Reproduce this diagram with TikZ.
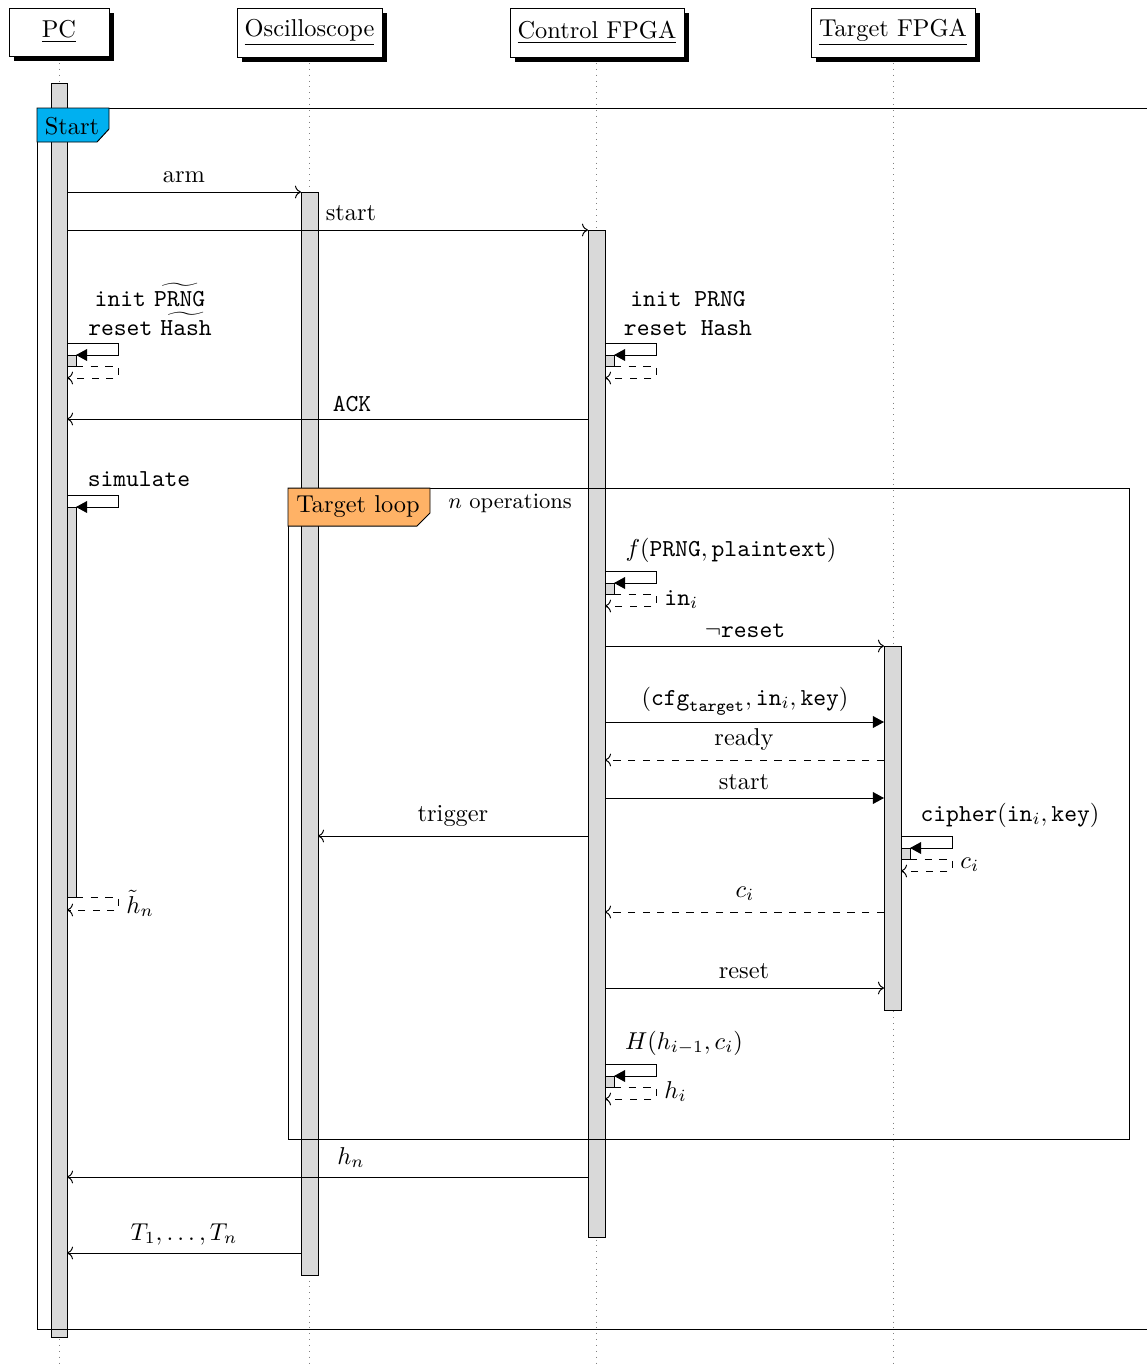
\documentclass[tikz,border=0pt]{standalone}
\usetikzlibrary{arrows.meta,shadows}
\definecolor{startblue}{RGB}{0,176,240}
\definecolor{loopor}{RGB}{255,178,102}
\definecolor{actgray}{RGB}{217,217,217}
\newcommand{\myself}[3]{%
  % #1 bar right x, #2 top y, #3 name
  \coordinate (#3-a) at (#1,#2);
  \coordinate (#3-b) at ({#1+51},#2);
  \coordinate (#3-c) at ({#1+51},{#2+12});
  \coordinate (#3-d) at ({#1+9},{#2+12});
  \draw[act] ({#1},{#2+12}) rectangle ({#1+9},{#2+23});
  \coordinate (#3-e) at ({#1+9},{#2+23});
  \coordinate (#3-f) at ({#1+51},{#2+23});
  \coordinate (#3-g) at ({#1+51},{#2+35});
  \coordinate (#3-h) at ({#1},{#2+35});
  \draw[callmsg] (#3-a) -- (#3-b) -- (#3-c) -- (#3-d);
  \draw[retmsg] (#3-e) -- (#3-f) -- (#3-g) -- (#3-h);
}
\begin{document}
\begin{tikzpicture}[x=0.41pt,y=-0.41pt,
  head/.style={draw, fill=white, inner sep=0pt,
    drop shadow={fill=black, opacity=1, shadow xshift=2.05pt, shadow yshift=-2.05pt}},
  life/.style={dotted, gray},
  act/.style={draw, fill=actgray},
  msg/.style={->},
  callmsg/.style={-{Triangle[length=4.6pt,width=4.9pt]}},
  retmsg/.style={dashed, ->},
  lab/.style={anchor=base, inner sep=0pt},
  labw/.style={anchor=base west, inner sep=0pt},
  frame/.style={draw}]
\useasboundingbox (0,0) rectangle (1147,1364);
\clip (0,0) rectangle (1147,1364);

% heads
\node[head, minimum width=100*0.41pt, minimum height=48*0.41pt] (pc) at (59,32) {\underline{PC}};
\node[head, minimum width=145*0.41pt, minimum height=49*0.41pt] (osc) at (309.5,32.5) {\underline{Oscilloscope}};
\node[head, minimum width=174*0.41pt, minimum height=49*0.41pt] (ctl) at (597,32.5) {\underline{Control FPGA}};
\node[head, minimum width=164*0.41pt, minimum height=49*0.41pt] (tgt) at (893,32.5) {\underline{Target FPGA}};

% lifelines
\coordinate (pct) at (59,63);   \coordinate (pcb) at (59,1364);
\coordinate (osct) at (309,63); \coordinate (oscb) at (309,1364);
\coordinate (ctlt) at (596,63); \coordinate (ctlb) at (596,1364);
\coordinate (tgtt) at (893,63); \coordinate (tgtb) at (893,1364);
\draw[life] (pct) -- (pcb);
\draw[life] (osct) -- (oscb);
\draw[life] (ctlt) -- (ctlb);
\draw[life] (tgtt) -- (tgtb);

% activation bars
\draw[act] (51,83) rectangle (67,1337);
\draw[act] (301,192) rectangle (318,1275);
\draw[act] (588,230) rectangle (605,1237);
\draw[act] (884,646) rectangle (901,1010);
\draw[act] (67,507) rectangle (76,897);

% frames
\draw[frame] (37,108) rectangle (1170,1329);
\draw[frame] (288,488) rectangle (1129,1139);
\draw[fill=startblue] (37,108) -- (109,108) -- (109,129) -- (97,142) -- (37,142) -- cycle;
\node[inner sep=0pt] (startlab) at (72,126) {Start};
\draw[fill=loopor] (288,488) -- (430,488) -- (430,513) -- (417,526) -- (288,526) -- cycle;
\node[inner sep=0pt] (looplab) at (358,507) {Target loop};
\node[lab] (nops) at (510,508) {\small $n$ operations};

% arm
\coordinate (arm1) at (67,192); \coordinate (arm2) at (301,192);
\draw[msg] (arm1) -- (arm2);
\node[lab] at (184,182) {arm};
% start
\coordinate (st1) at (67,230); \coordinate (st2) at (588,230);
\draw[msg] (st1) -- (st2);
\node[lab] at (351,220) {start};

% init self calls
\myself{67}{343}{pci}
\node[lab] at (150,306) {\texttt{init} $\widetilde{\mathtt{PRNG}}$};
\node[lab] at (150,335) {\texttt{reset} $\widetilde{\mathtt{Hash}}$};
\myself{605}{343}{cti}
\node[lab] at (688,306) {\texttt{init PRNG}};
\node[lab] at (688,335) {\texttt{reset Hash}};

% ACK
\coordinate (ack1) at (588,419); \coordinate (ack2) at (67,419);
\draw[msg] (ack1) -- (ack2);
\node[lab] at (352,411) {\texttt{ACK}};

% simulate
\coordinate (sim-a) at (67,495); \coordinate (sim-b) at (118,495);
\coordinate (sim-c) at (118,507); \coordinate (sim-d) at (76,507);
\draw[callmsg] (sim-a) -- (sim-b) -- (sim-c) -- (sim-d);
\node[lab] at (139,486) {\texttt{simulate}};
\coordinate (sim-e) at (76,897); \coordinate (sim-f) at (118,897);
\coordinate (sim-g) at (118,910); \coordinate (sim-h) at (67,910);
\draw[retmsg] (sim-e) -- (sim-f) -- (sim-g) -- (sim-h);
\node[labw] at (126,913) {$\tilde{h}_n$};

% f(PRNG, plaintext)
\myself{605}{571}{fcall}
\node[lab] at (731,556) {$f(\mathtt{PRNG},\mathtt{plaintext})$};
\node[labw] at (664,605) {$\mathtt{in}_i$};

% not reset
\coordinate (nr1) at (605,646); \coordinate (nr2) at (884,646);
\draw[msg] (nr1) -- (nr2);
\node[lab] at (745,637) {$\neg\mathtt{reset}$};

% cfg
\coordinate (cf1) at (605,722); \coordinate (cf2) at (884,722);
\draw[callmsg] (cf1) -- (cf2);
\node[lab] at (745,705) {$(\mathtt{cfg}_{\mathtt{target}},\mathtt{in}_i,\mathtt{key})$};

% ready
\coordinate (rd1) at (884,760); \coordinate (rd2) at (605,760);
\draw[retmsg] (rd1) -- (rd2);
\node[lab] at (744,745) {ready};

% start
\coordinate (s21) at (605,798); \coordinate (s22) at (884,798);
\draw[callmsg] (s21) -- (s22);
\node[lab] at (744,789) {start};

% trigger
\coordinate (tr1) at (588,836); \coordinate (tr2) at (318,836);
\draw[msg] (tr1) -- (tr2);
\node[lab] at (453,821) {trigger};

% cipher
\myself{901}{836}{ciph}
\node[lab] at (1010,821) {$\mathtt{cipher}(\mathtt{in}_i,\mathtt{key})$};
\node[labw] at (960,868) {$c_i$};

% c_i
\coordinate (ci1) at (884,912); \coordinate (ci2) at (605,912);
\draw[retmsg] (ci1) -- (ci2);
\node[lab] at (745,897) {$c_i$};

% reset
\coordinate (rs1) at (605,988); \coordinate (rs2) at (884,988);
\draw[msg] (rs1) -- (rs2);
\node[lab] at (744,978) {reset};

% H
\myself{605}{1064}{hcall}
\node[lab] at (684,1049) {$H(h_{i-1},c_i)$};
\node[labw] at (664,1098) {$h_i$};

% h_n
\coordinate (hn1) at (588,1177); \coordinate (hn2) at (67,1177);
\draw[msg] (hn1) -- (hn2);
\node[lab] at (351,1164) {$h_n$};

% T
\coordinate (t1) at (301,1253); \coordinate (t2) at (67,1253);
\draw[msg] (t1) -- (t2);
\node[lab] at (184,1240) {$T_1,\ldots,T_n$};
\end{tikzpicture}
\end{document}
